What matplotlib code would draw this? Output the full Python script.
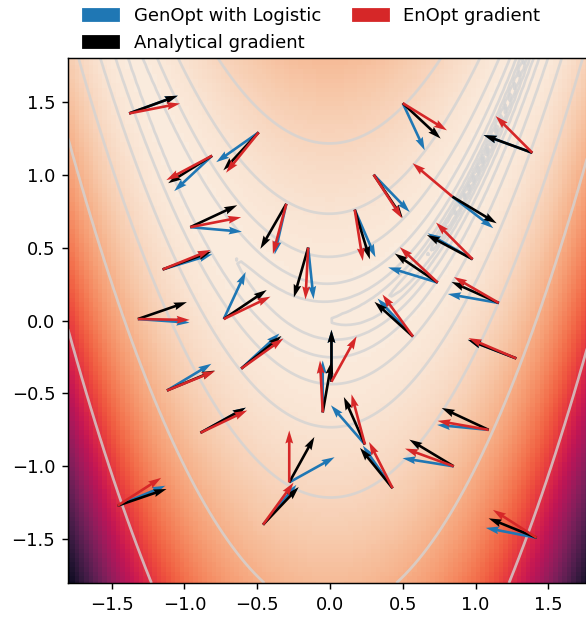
import matplotlib
matplotlib.use("Agg")
import matplotlib.pyplot as plt
import matplotlib.patches as mpatches
import numpy as np
import seaborn as sns

# sample points (x, y) where the gradients are shown
pts_x = [-1.38, -0.49, -0.81, -0.96, -0.30, 0.17, 0.30, 0.50, 1.39, 0.84, 1.16, 0.98, 0.74, 0.57, 1.28, -0.61,
         -0.73, -1.32, -1.15, -1.12, -1.46, -0.89, -0.46, -0.28, 0.24, 0.43, -0.05, 0.01, 1.09, 0.85, 1.42, -0.15]
pts_y = [1.42, 1.29, 1.13, 0.64, 0.80, 0.76, 1.00, 1.49, 1.15, 0.85, 0.12, 0.42, 0.26, -0.11, -0.26, -0.33,
         0.01, 0.01, 0.35, -0.48, -1.27, -0.77, -1.40, -1.11, -0.85, -1.15, -0.63, -0.42, -0.75, -1.00, -1.49, 0.50]

# arrow directions in degrees
ang_genopt = [20, 215, 223, -5, 257, -66.5, -46, -65, 160, -37.6, 170, 150, 163, 133, 159, 42.6,
              65, -4, 17, 31, 22.6, 29, 50, 29, 131, 125, 90, 90, 174.5, 171, 169, 276]
ang_analytic = [20, 227, 212, 25, 240, -73, -56, -43, 160, -31, 156, 152, 146, 138, 159, 39,
                34, 19, 20, 22.6, 18.8, 29, 46.5, 61, 114, 129, 80, 90, 155, 149, 158, 254]
ang_enopt = [11, 231, 208, 11, 255, -81, -57, -31.5, 135, 140, 150, 135, 137, 126, 157, 35.5,
             25.6, -1, 22, 22, 32.5, 25.5, 54, 90, 105, 117, 93, 61, 170, 160, 147.5, 267]

arrow_len = 0.356
lim = 1.8


def rosenbrock(x, y, a=1.0, b=100.0):
    return (a - x) ** 2 + b * (y - x ** 2) ** 2


def draw_arrows(ax, angles, color):
    rad = np.deg2rad(angles)
    u = arrow_len * np.cos(rad)
    v = arrow_len * np.sin(rad)
    ax.quiver(pts_x, pts_y, u, v, color=color, angles="xy", scale_units="xy", scale=1,
              width=0.005, zorder=3)


def main():
    fig = plt.figure(figsize=(586 / 130, 617 / 130), dpi=130)
    ax = fig.add_axes([68 / 586, 34 / 617, 524 / 586, 525 / 617])

    grid = np.linspace(-lim, lim, 116)
    X, Y = np.meshgrid(grid, grid)
    Z = rosenbrock(X, Y)

    cmap = sns.color_palette("rocket_r", as_cmap=True)
    ax.pcolormesh(X, Y, Z, cmap=cmap, shading="auto", vmin=0, vmax=Z.max())
    ax.contour(X, Y, Z, levels=np.exp(np.arange(-6, 8)), colors="lightgray", linewidths=1.5, alpha=0.8)

    draw_arrows(ax, ang_genopt, "tab:blue")
    draw_arrows(ax, ang_analytic, "black")
    draw_arrows(ax, ang_enopt, "tab:red")

    ax.set_xlim(-lim, lim)
    ax.set_ylim(-lim, lim)
    ax.set_xticks([-1.5, -1.0, -0.5, 0.0, 0.5, 1.0, 1.5])
    ax.set_yticks([-1.5, -1.0, -0.5, 0.0, 0.5, 1.0, 1.5])

    handles = [
        mpatches.Patch(color="tab:blue", label="GenOpt with Logistic"),
        mpatches.Patch(color="black", label="Analytical gradient"),
        mpatches.Patch(color="tab:red", label="EnOpt gradient"),
    ]
    ax.legend(handles=handles, ncol=2, frameon=False, loc="lower center",
              bbox_to_anchor=(0.465, 0.99), borderaxespad=0.2, columnspacing=1.75)

    fig.savefig("out.png", dpi=130)


if __name__ == "__main__":
    main()
